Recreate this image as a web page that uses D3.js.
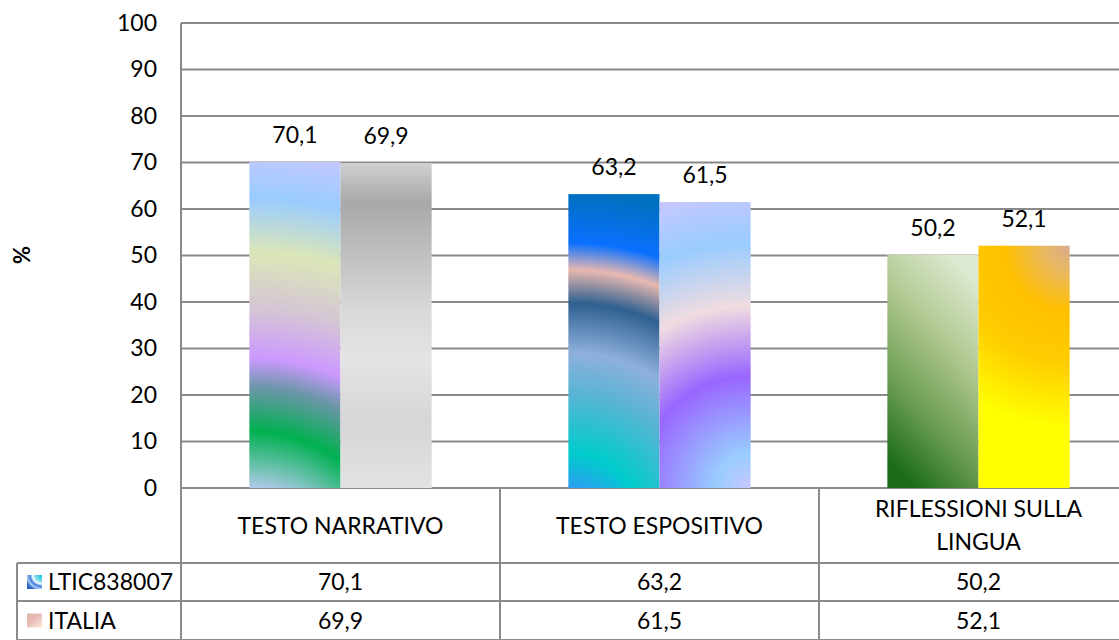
<!DOCTYPE html>
<html>
<head>
<meta charset="utf-8">
<script src="https://cdn.jsdelivr.net/npm/d3@7"></script>
<style>
  body { margin: 0; background: #fff; }
  text { font-family: Lato, "Noto Sans", sans-serif; fill: #000; }
</style>
</head>
<body>
<div id="chart"></div>
<script>
var categories = ["TESTO NARRATIVO", "TESTO ESPOSITIVO", "RIFLESSIONI SULLA LINGUA"];
var categoryLines = [["TESTO NARRATIVO"], ["TESTO ESPOSITIVO"], ["RIFLESSIONI SULLA", "LINGUA"]];
var seriesNames = ["LTIC838007", "ITALIA"];
var ltic = [70.1, 63.2, 50.2];
var italia = [69.9, 61.5, 52.1];
var yTicks = [0, 10, 20, 30, 40, 50, 60, 70, 80, 90, 100];

var width = 1119, height = 640;
var plot = { left: 181, top: 23, bottom: 488, step: 319 };
var rowBottoms = [563, 601, 640];
var tableLeft = 17;
var fontSize = "23px";

var svg = d3.select("#chart").append("svg")
    .attr("width", width)
    .attr("height", height);
var defs = svg.append("defs");

var y = d3.scaleLinear().domain([0, 100]).range([plot.bottom, plot.top]);
var x0 = d3.scaleBand()
    .domain(categories)
    .range([plot.left, plot.left + plot.step * categories.length]);
var x1 = d3.scaleBand()
    .domain(seriesNames)
    .range([0, x0.bandwidth()])
    .paddingOuter(0.75);
var right = x0.range()[1];

// fills, one per bar (series, category) - imitating Excel preset gradients
var fills = [
    [
        { type: "radial", corner: "bl", drop: 100, stops: [[0, "#b8c0f0"], [0.23, "#b0c8e8"], [0.264, "#80c4c0"], [0.36, "#00b050"], [0.46, "#6a96a8"], [0.528, "#cc99ff"], [0.636, "#d4c4d6"], [0.77, "#dce6b8"], [0.895, "#99ccff"], [1, "#c4c8ff"]] },
        { type: "radial", corner: "bl", drop: 40, stops: [[0, "#3a90f8"], [0.116, "#2aa0f0"], [0.217, "#00cccc"], [0.39, "#5ab4d4"], [0.506, "#8eb0dc"], [0.65, "#2e6090"], [0.746, "#e8b8b0"], [0.824, "#0a70ff"], [0.965, "#0070c0"], [1, "#0070c0"]] },
        { type: "linear", x1: 0.7, y1: 0, x2: 0.3, y2: 1, stops: [[0, "#dde9d0"], [0.35, "#b0c890"], [0.7, "#6a9c50"], [1, "#1a6c18"]] }
    ],
    [
        { type: "linear", x1: 0, y1: 0, x2: 0, y2: 1, stops: [[0, "#d0d0d0"], [0.12, "#a8a8a8"], [0.2, "#b4b4b4"], [0.45, "#d8d8d8"], [0.6, "#e4e4e4"], [0.8, "#d6d6d6"], [1, "#e2e2e2"]] },
        { type: "radial", corner: "br", drop: 0, stops: [[0, "#c8c8ff"], [0.117, "#99ccff"], [0.373, "#9966ff"], [0.607, "#f0dce0"], [0.817, "#99ccff"], [1, "#c8c8ff"]] },
        { type: "radial", corner: "tr", drop: 0, stops: [[0, "#d8ac90"], [0.1, "#e8b860"], [0.25, "#ffc000"], [0.45, "#ffcc00"], [0.7, "#ffff00"], [1, "#ffff00"]] }
    ]
];

var series = [ltic, italia];
var bars = [];
series.forEach(function (vals, si) {
    vals.forEach(function (v, ci) {
        bars.push({ s: si, c: ci, value: v, name: seriesNames[si], cat: categories[ci] });
    });
});

function addStops(g, stops) {
    stops.forEach(function (st) {
        g.append("stop").attr("offset", st[0]).attr("stop-color", st[1]);
    });
}

bars.forEach(function (d) {
    var f = fills[d.s][d.c];
    var id = "fill" + d.s + "_" + d.c;
    var bx = x0(d.cat) + x1(d.name), bw = x1.bandwidth();
    var top = y(d.value), bot = y(0);
    var g;
    if (f.type === "linear") {
        g = defs.append("linearGradient").attr("id", id)
            .attr("x1", f.x1).attr("y1", f.y1).attr("x2", f.x2).attr("y2", f.y2);
    } else {
        var cx = f.corner === "bl" ? bx : bx + bw;
        var cy = f.corner === "tr" ? top : bot + f.drop;
        var fx = f.corner === "bl" ? bx + bw : bx;
        var fy = f.corner === "tr" ? bot : top;
        var r = Math.sqrt((cx - fx) * (cx - fx) + (cy - fy) * (cy - fy));
        g = defs.append("radialGradient").attr("id", id)
            .attr("gradientUnits", "userSpaceOnUse")
            .attr("cx", cx).attr("cy", cy).attr("r", r);
    }
    addStops(g, f.stops);
    d.fill = "url(#" + id + ")";
});

// legend key gradients
var k1 = defs.append("radialGradient").attr("id", "key0").attr("cx", 1).attr("cy", 0).attr("r", 1.4);
addStops(k1, [[0, "#00c8d8"], [0.35, "#90dcf0"], [0.45, "#ffffff"], [0.58, "#3a7ee0"], [0.7, "#b0ccf0"], [0.82, "#2f6ad0"], [1, "#2a60c8"]]);
var k2 = defs.append("linearGradient").attr("id", "key1").attr("x1", 0).attr("y1", 0).attr("x2", 1).attr("y2", 1);
addStops(k2, [[0, "#d8c0a0"], [0.4, "#e8b8b8"], [1, "#fbecd4"]]);

var lineColor = "#8a8a8a";

// gridlines
svg.append("g").selectAll("line").data(yTicks).enter().append("line")
    .attr("x1", plot.left).attr("x2", right)
    .attr("y1", function (d) { return y(d); })
    .attr("y2", function (d) { return y(d); })
    .attr("stroke", lineColor).attr("stroke-width", 2);

// y axis labels
var yAxis = svg.append("g")
    .attr("transform", "translate(" + plot.left + ",0)")
    .call(d3.axisLeft(y).tickValues(yTicks).tickSize(0).tickPadding(24));
yAxis.select(".domain").remove();
yAxis.selectAll("text")
    .style("font-family", "Lato, 'Noto Sans', sans-serif")
    .style("font-size", fontSize)
    .attr("fill", "#000");

svg.append("text")
    .attr("transform", "translate(30,255) rotate(-90)")
    .attr("text-anchor", "middle")
    .style("font-size", "22px")
    .style("font-weight", "bold")
    .text("%");

// bars
svg.append("g").selectAll("rect").data(bars).enter().append("rect")
    .attr("x", function (d) { return x0(d.cat) + x1(d.name); })
    .attr("y", function (d) { return y(d.value); })
    .attr("width", x1.bandwidth())
    .attr("height", function (d) { return y(0) - y(d.value); })
    .attr("fill", function (d) { return d.fill; });

// data labels
svg.append("g").selectAll("text").data(bars).enter().append("text")
    .attr("x", function (d) { return x0(d.cat) + x1(d.name) + x1.bandwidth() / 2; })
    .attr("y", function (d) { return y(d.value) - 19; })
    .attr("text-anchor", "middle")
    .style("font-size", fontSize)
    .text(function (d) { return d3.format(".1f")(d.value).replace(".", ","); });

// data table
var table = svg.append("g");
table.append("line")
    .attr("x1", plot.left).attr("x2", plot.left)
    .attr("y1", plot.top).attr("y2", height)
    .attr("stroke", lineColor).attr("stroke-width", 2);
rowBottoms.forEach(function (ry) {
    table.append("line")
        .attr("x1", tableLeft).attr("x2", right)
        .attr("y1", ry).attr("y2", ry)
        .attr("stroke", lineColor).attr("stroke-width", 2);
});
table.append("line")
    .attr("x1", tableLeft).attr("x2", tableLeft)
    .attr("y1", rowBottoms[0]).attr("y2", height)
    .attr("stroke", lineColor).attr("stroke-width", 2);
categories.forEach(function (c) {
    table.append("line")
        .attr("x1", x0(c) + x0.bandwidth()).attr("x2", x0(c) + x0.bandwidth())
        .attr("y1", plot.bottom).attr("y2", height)
        .attr("stroke", lineColor).attr("stroke-width", 2);
});

// category header cells
categoryLines.forEach(function (lines, ci) {
    var cx = x0(categories[ci]) + x0.bandwidth() / 2;
    var mid = (plot.bottom + rowBottoms[0]) / 2;
    var t = table.append("text")
        .attr("text-anchor", "middle")
        .style("font-size", fontSize);
    lines.forEach(function (ln, li) {
        t.append("tspan")
            .attr("x", cx)
            .attr("y", mid + 8 + (li - (lines.length - 1) / 2) * 33)
            .text(ln);
    });
});

// value rows
series.forEach(function (vals, si) {
    var top = rowBottoms[si], bot = rowBottoms[si + 1];
    var mid = (top + bot) / 2;
    table.append("rect")
        .attr("x", 27).attr("y", mid - 7)
        .attr("width", 15).attr("height", 14)
        .attr("fill", "url(#key" + si + ")");
    table.append("text")
        .attr("x", 48).attr("y", mid + 8)
        .style("font-size", fontSize)
        .text(seriesNames[si]);
    vals.forEach(function (v, ci) {
        table.append("text")
            .attr("x", x0(categories[ci]) + x0.bandwidth() / 2)
            .attr("y", mid + 8)
            .attr("text-anchor", "middle")
            .style("font-size", fontSize)
            .text(d3.format(".1f")(v).replace(".", ","));
    });
});
</script>
</body>
</html>
